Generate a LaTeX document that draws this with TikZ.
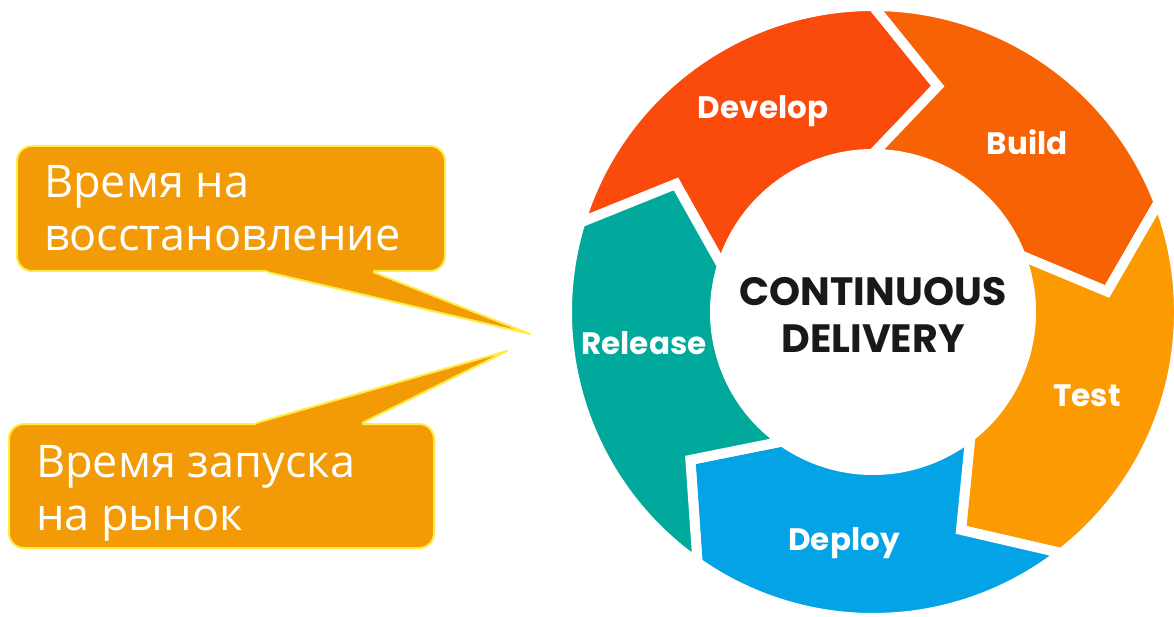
\documentclass[tikz,border=0pt]{standalone}
\usepackage{fontspec}
\setmainfont{Open Sans}
\newfontfamily\ringfont{Poppins}
\usepackage{tikz}
\usetikzlibrary{calc, positioning}

\definecolor{developred}{RGB}{250,74,12}
\definecolor{buildorange}{RGB}{246,98,4}
\definecolor{testorange}{RGB}{252,154,2}
\definecolor{deployblue}{RGB}{4,163,229}
\definecolor{releaseteal}{RGB}{0,169,155}
\definecolor{calloutfill}{RGB}{243,155,6}
\definecolor{calloutline}{RGB}{255,236,70}

\tikzset{
  stage/.style={text=white, inner sep=0, anchor=base, font=\ringfont\bfseries\fontsize{31}{31}\selectfont},
  hubtext/.style={text=black!90, inner sep=0, align=center, anchor=base, font=\ringfont\bfseries\fontsize{39.5}{47}\selectfont},
  calloutbox/.style={fill=calloutfill, draw=calloutline, line width=2, rounded corners=15, inner sep=0},
  callouttext/.style={text=white, inner sep=0, align=left, anchor=base west, font=\fontsize{45}{53}\selectfont},
  pointer/.style={draw=calloutline, line width=2, line join=round},
}

\begin{document}
\begin{tikzpicture}[x=1pt, y=1pt]
    \useasboundingbox (0,0) rectangle (1174,616);

    % the ring
    \coordinate (hub) at (873,304);
    \begin{scope}[shift={(hub)}]
      \foreach \nm/\col/\ta/\ha in {develop/developred/163/90, build/buildorange/90/21,
          test/testorange/21/-52, deploy/deployblue/-52/-125, release/releaseteal/235/163}
        \filldraw[fill=\col, draw=white, line width=10]
          (\ta:306) arc[start angle=\ta, end angle=\ha, radius=306]
          -- (\ha-16:235) -- (\ha:158)
          arc[start angle=\ha, end angle=\ta, radius=158]
          -- (\ta-16:235) -- cycle;
    \end{scope}

    \node[stage] (develop) at (763,497.5) {Develop};
    \node[stage] (build)   at (1027,461) {Build};
    \node[stage] (test)    at (1087,210) {Test};
    \node[stage] (deploy)  at (844,66) {Deploy};
    \node[stage] (release) at (644,261) {Release};
    \node[hubtext] (cd) at (873,263) {CONTINUOUS\\DELIVERY};

    % callouts
    \node[calloutbox, minimum width=428, minimum height=125] (recoverybox) at (231,407.5) {};
    \node[calloutbox, minimum width=425, minimum height=124] (marketbox) at (221.5,130) {};
    \coordinate (recoverytip) at (530,282);
    \coordinate (markettip) at (507,265);

    \fill[calloutfill] ($(recoverybox.south west)+(251,0)$) -- (recoverytip)
        -- ($(recoverybox.south west)+(357,0)$) -- ++(0,4) -- ($(recoverybox.south west)+(251,4)$) -- cycle;
    \draw[pointer] ($(recoverybox.south west)+(251,0)$) -- (recoverytip) -- ($(recoverybox.south west)+(357,0)$);
    \fill[calloutfill] ($(marketbox.north west)+(248,0)$) -- (markettip)
        -- ($(marketbox.north west)+(354,0)$) -- ++(0,-4) -- ($(marketbox.north west)+(248,-4)$) -- cycle;
    \draw[pointer] ($(marketbox.north west)+(248,0)$) -- (markettip) -- ($(marketbox.north west)+(354,0)$);

    \node[callouttext] (recovery) at (44,365) {Время на\\восстановление};
    \node[callouttext] (market) at (36,86) {Время запуска\\на рынок};
\end{tikzpicture}
\end{document}
